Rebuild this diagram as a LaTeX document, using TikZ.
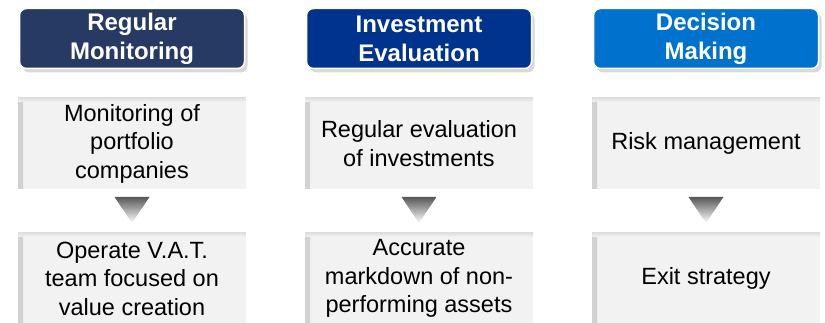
\documentclass[tikz,border=0pt]{standalone}
\usepackage{fontspec}
\setmainfont{Liberation Sans}
\usetikzlibrary{positioning, shadows}

\definecolor{navyhead}{HTML}{263A64}
\definecolor{bluehead}{HTML}{00338D}
\definecolor{skyhead}{HTML}{0072CE}
\definecolor{boxgray}{HTML}{F2F2F2}

\begin{document}
\begin{tikzpicture}[node distance=287pt,on grid]
\tikzstyle{head}=[rounded corners=7pt,draw=white,line width=1.5pt,minimum width=225pt,minimum height=60pt,inner sep=0pt,text=white,align=center,font=\bfseries\fontsize{24}{29}\selectfont,drop shadow={shadow xshift=3pt,shadow yshift=-4pt,opacity=0.3}]
\tikzstyle{item}=[fill=boxgray,minimum width=228pt,minimum height=91pt,inner sep=0pt,align=center,font=\fontsize{23.5}{28.5}\selectfont,
  path picture={
    \shade[left color=black!18,right color=boxgray] (path picture bounding box.south west) rectangle ([xshift=5pt]path picture bounding box.north west);
    \shade[top color=black!12,bottom color=boxgray] (path picture bounding box.north west) rectangle ([yshift=-4pt]path picture bounding box.north east);
  }]
\tikzstyle{fall}=[shading=axis,shading angle=0,top color=black!66,bottom color=white]

\useasboundingbox (0,0) rectangle (825pt,-323pt);

%-- Headers --
\node[head, fill=navyhead] (h1) at (132pt,-38.5pt) {Regular\\Monitoring};
\node[head, fill=bluehead] (h2) [right=of h1] {Investment\\Evaluation};
\node[head, fill=skyhead] (h3) [right=of h2] {Decision\\Making};

%-- Upper items --
\node[item] (t1) [below=105pt of h1] {Monitoring of\\portfolio\\companies};
\node[item] (t2) [below=105pt of h2] {Regular evaluation\\of investments};
\node[item] (t3) [below=105pt of h3] {Risk management};

%-- Lower items --
\node[item] (b1) [below=135pt of t1] {Operate V.A.T.\\team focused on\\value creation};
\node[item] (b2) [below=135pt of t2] {Accurate\\markdown of non-\\performing assets};
\node[item] (b3) [below=135pt of t3] {Exit strategy};

%-- Arrow points --
\coordinate[below=66.5pt of t1] (a1);
\coordinate[below=66.5pt of t2] (a2);
\coordinate[below=66.5pt of t3] (a3);

%-- Down arrows --
\begin{scope}
  \clip ([shift={(-17.5pt,13pt)}]a1) -- ([shift={(17.5pt,13pt)}]a1) -- ([yshift=-13pt]a1) -- cycle;
  \shade[fall] ([shift={(-17.5pt,13pt)}]a1) rectangle ([shift={(17.5pt,-13pt)}]a1);
\end{scope}
\begin{scope}
  \clip ([shift={(-17.5pt,13pt)}]a2) -- ([shift={(17.5pt,13pt)}]a2) -- ([yshift=-13pt]a2) -- cycle;
  \shade[fall] ([shift={(-17.5pt,13pt)}]a2) rectangle ([shift={(17.5pt,-13pt)}]a2);
\end{scope}
\begin{scope}
  \clip ([shift={(-17.5pt,13pt)}]a3) -- ([shift={(17.5pt,13pt)}]a3) -- ([yshift=-13pt]a3) -- cycle;
  \shade[fall] ([shift={(-17.5pt,13pt)}]a3) rectangle ([shift={(17.5pt,-13pt)}]a3);
\end{scope}

\end{tikzpicture}
\end{document}
